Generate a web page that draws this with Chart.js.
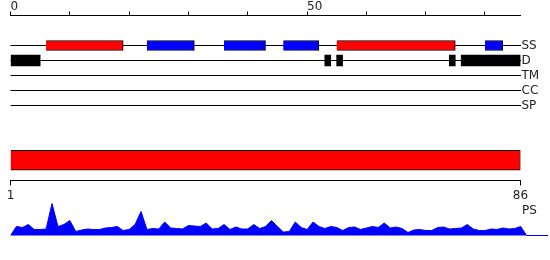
<!DOCTYPE html>
<html>
<head>
<meta charset="utf-8">
<script src="https://cdn.jsdelivr.net/npm/chart.js@4"></script>
<style>
  body { margin: 0; background: #fff; }
  #wrap { position: relative; width: 550px; height: 260px; }
  canvas { position: absolute; left: 0; }
  #psLabel { position: absolute; left: 522px; top: 204px; font: 12px 'DejaVu Sans'; line-height: 12px; color: #222; }
</style>
</head>
<body>
<div id="wrap">
  <canvas id="tracks" width="550" height="120" style="top:0"></canvas>
  <canvas id="domain" width="550" height="64" style="top:140px"></canvas>
  <canvas id="ps" width="550" height="37" style="top:199px"></canvas>
  <div id="psLabel">PS</div>
</div>
<script>
// pistas
const trackNames = ['SS', 'D', 'TM', 'CC', 'SP'];
const trackPos = [2, 3, 4, 5, 6];
const topTicks = [0, 10, 20, 30, 40, 50, 60, 70, 80];
const labeledTicks = [0, 50];
const seqLen = 86;

// estructura secundaria
const helixStart = [6, 55];
const helixEnd = [19, 75];
const strandStart = [23, 36, 46, 80];
const strandEnd = [31, 43, 52, 83];
// desorden
const disStart = [0, 53, 55, 74, 76];
const disEnd = [5, 54, 56, 75, 86];

// dominio y eje inferior
const domStart = 1;
const domEnd = 86;
const bottomTicks = [1, 86];

// PS
const psPos = [0, 1, 2, 3, 4, 5, 6, 7, 8, 9, 10, 11, 12, 13, 14, 15, 16, 17, 18, 19, 20, 21, 22, 23, 24, 25, 26, 27, 28, 29,
  30, 31, 32, 33, 34, 35, 36, 37, 38, 39, 40, 41, 42, 43, 44, 45, 46, 47, 48, 49, 50, 51, 52, 53, 54, 55, 56, 57, 58, 59,
  60, 61, 62, 63, 64, 65, 66, 67, 68, 69, 70, 71, 72, 73, 74, 75, 76, 77, 78, 79, 80, 81, 82, 83, 84, 85, 86, 87, 90.6];
const psVal = [0, 9, 8, 11, 6, 6, 6.5, 32, 9, 11, 15, 4, 5.5, 6.5, 6, 6, 7.5, 8, 9, 5, 6, 11, 24, 6, 7, 6.5, 13.5, 7.5, 7, 6.5,
  10, 9.5, 9, 12.5, 6.5, 7, 11, 6, 8.5, 6.5, 6.5, 11, 7, 9, 15, 9, 3.5, 4, 13.5, 8, 6, 13.5, 9, 7, 9, 8, 5, 8, 8.5, 6,
  7.5, 9, 8, 12.5, 7.5, 8.5, 7, 3, 5.5, 6, 5, 5, 8, 8.5, 6.5, 7, 7.5, 11, 6.5, 5, 5, 6.5, 6, 7.5, 6.5, 7, 9, 0, 0];

Chart.defaults.font.family = 'DejaVu Sans';
Chart.defaults.font.size = 12;
Chart.defaults.color = '#222';
Chart.defaults.animation = false;
Chart.defaults.responsive = false;
Chart.defaults.devicePixelRatio = 1;
Chart.defaults.plugins.legend.display = false;
Chart.defaults.plugins.tooltip.enabled = false;

function segmentos(inicio, fin, y) {
    return inicio.map((s, i) => ({ x: [s, fin[i]], y: y }));
}

new Chart(document.getElementById('tracks'), {
    type: 'bar',
    data: {
        datasets: [
            {
                data: segmentos(helixStart, helixEnd, trackPos[0]),
                backgroundColor: '#ff0000',
                borderColor: '#000',
                borderWidth: 1,
                barThickness: 10,
            },
            {
                data: segmentos(strandStart, strandEnd, trackPos[0]),
                backgroundColor: '#0000ff',
                borderColor: '#000',
                borderWidth: 1,
                barThickness: 10,
            },
            {
                data: segmentos(disStart, disEnd, trackPos[1]),
                backgroundColor: '#000',
                borderWidth: 0,
                barThickness: 11,
            },
        ],
    },
    options: {
        indexAxis: 'y',
        grouped: false,
        layout: { padding: { left: 10.5, right: 0, top: 0, bottom: 14.5 } },
        scales: {
            x: {
                type: 'linear',
                position: 'top',
                min: 0,
                max: seqLen,
                afterBuildTicks: s => { s.ticks = topTicks.map(v => ({ value: v })); },
                afterFit: s => { s.height = 15.5; },
                ticks: {
                    align: 'start',
                    padding: -3,
                    maxRotation: 0,
                    autoSkip: false,
                    callback: v => labeledTicks.includes(v) ? String(v) : '',
                },
                grid: { drawOnChartArea: false, tickLength: 4, color: '#000' },
                border: { color: '#000', width: 1 },
            },
            y: {
                type: 'linear',
                position: 'right',
                reverse: true,
                offset: false,
                min: 0,
                max: 6,
                afterBuildTicks: s => { s.ticks = trackPos.map(v => ({ value: v })); },
                afterFit: s => { s.width = 29.5; },
                ticks: {
                    padding: 1,
                    autoSkip: false,
                    callback: v => trackNames[trackPos.indexOf(v)],
                },
                grid: { offset: false, color: '#000', lineWidth: 1, drawTicks: false },
                border: { display: false },
            },
        },
    },
});

new Chart(document.getElementById('domain'), {
    type: 'bar',
    data: {
        labels: ['dom'],
        datasets: [{
            data: [[domStart, domEnd]],
            backgroundColor: '#ff0000',
            borderColor: '#000',
            borderWidth: 1,
            barThickness: 20,
        }],
    },
    options: {
        indexAxis: 'y',
        layout: { padding: { left: 10.5, right: 29.5, top: 0, bottom: 0 } },
        scales: {
            x: {
                type: 'linear',
                min: domStart,
                max: domEnd,
                afterBuildTicks: s => { s.ticks = bottomTicks.map(v => ({ value: v })); },
                afterFit: s => { s.height = 23.5; },
                ticks: { padding: 3, maxRotation: 0, autoSkip: false },
                grid: { drawOnChartArea: false, tickLength: 5, color: '#000' },
                border: { color: '#000', width: 1 },
            },
            y: { display: false },
        },
    },
});

new Chart(document.getElementById('ps'), {
    type: 'line',
    data: {
        datasets: [{
            data: psPos.map((p, i) => ({ x: p, y: psVal[i] })),
            borderColor: '#0000ff',
            backgroundColor: '#0000ff',
            borderWidth: 1,
            pointRadius: 0,
            tension: 0,
            fill: 'origin',
        }],
    },
    options: {
        layout: { padding: { left: 10.5, right: 2, top: 0, bottom: 0 } },
        scales: {
            x: { type: 'linear', min: 0, max: 90.6, display: false },
            y: { min: -0.5, max: 36.5, display: false },
        },
    },
});
</script>
</body>
</html>
